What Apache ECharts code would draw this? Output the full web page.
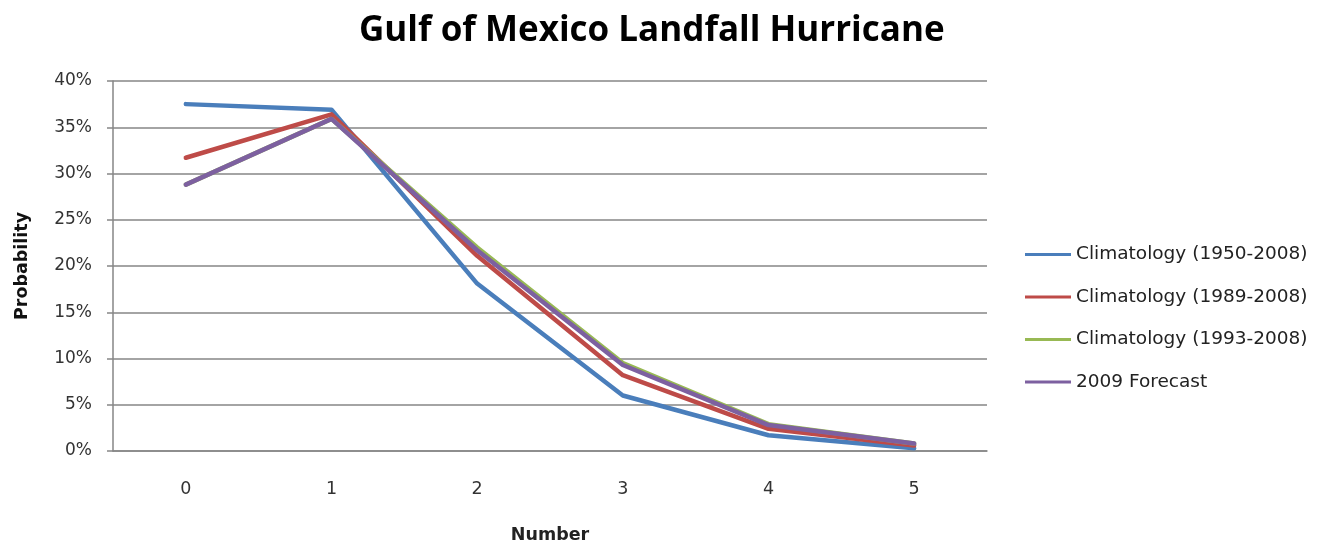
<!DOCTYPE html>
<html>
<head>
<meta charset="utf-8">
<style>
  html, body { margin: 0; padding: 0; background: #ffffff; overflow: hidden; }
  #chart { width: 1333px; height: 548px; }
</style>
<script src="https://cdn.jsdelivr.net/npm/echarts@6/dist/echarts.min.js"></script>
</head>
<body>
<div id="chart"></div>
<script>
// Number of landfalling hurricanes per season
const categories = ['0', '1', '2', '3', '4', '5'];

// Probability (%) for each count
const clim1950 = [37.5, 36.9, 18.1, 6.0, 1.7, 0.3];
const clim1989 = [31.7, 36.4, 21.1, 8.2, 2.4, 0.6];
const clim1993 = [28.8, 35.9, 22.0, 9.5, 2.9, 0.8];
const forecast2009 = [28.8, 35.9, 21.7, 9.3, 2.8, 0.8];

const seriesNames = [
  'Climatology (1950-2008)',
  'Climatology (1989-2008)',
  'Climatology (1993-2008)',
  '2009 Forecast'
];
const seriesColors = ['#4A7EBB', '#BE4B48', '#98B954', '#7D60A0'];
const yTicks = [0, 5, 10, 15, 20, 25, 30, 35, 40];

const font = '"DejaVu Sans", "Liberation Sans", sans-serif';
const titleFont = '"Open Sans", "DejaVu Sans", sans-serif';
const chart = echarts.init(document.getElementById('chart'), null, { renderer: 'canvas' });

const dataSets = [clim1950, clim1989, clim1993, forecast2009];

chart.setOption({
  animation: false,
  backgroundColor: '#ffffff',
  title: {
    text: 'Gulf of Mexico Landfall Hurricane',
    left: 354,
    top: 9,
    textStyle: { fontFamily: titleFont, fontSize: 35, fontWeight: 'bold', color: '#000000' }
  },
  legend: {
    orient: 'vertical',
    left: 1020,
    top: 240,
    itemGap: 23.5,
    itemWidth: 46,
    itemHeight: 3,
    icon: 'rect',
    data: seriesNames,
    textStyle: { fontFamily: font, fontSize: 18.5, color: '#222222' }
  },
  // fixed plot rectangle; axis names and labels sit outside it
  grid: { left: 113, right: 346, top: 81, bottom: 97, containLabel: false, outerBoundsMode: 'none' },
  xAxis: {
    type: 'category',
    data: categories,
    boundaryGap: true,
    name: 'Number',
    nameLocation: 'middle',
    nameGap: 75,
    nameTextStyle: { fontFamily: font, fontSize: 17.5, fontWeight: 'bold', color: '#222222' },
    axisLine: { show: true, lineStyle: { color: '#868686', width: 1.5 } },
    axisTick: { show: false },
    axisLabel: { margin: 29, fontFamily: font, fontSize: 17.5, color: '#333333' }
  },
  yAxis: {
    type: 'value',
    min: yTicks[0],
    max: yTicks[yTicks.length - 1],
    interval: 5,
    name: 'Probability',
    nameLocation: 'middle',
    nameGap: 82,
    nameTextStyle: { fontFamily: font, fontSize: 17.5, fontWeight: 'bold', color: '#111111' },
    axisLine: { show: true, lineStyle: { color: '#868686', width: 1.5 } },
    axisTick: { show: true, length: 6, lineStyle: { color: '#868686', width: 1.5 } },
    splitLine: { show: true, lineStyle: { color: '#868686', width: 1.5 } },
    axisLabel: {
      margin: 21,
      fontFamily: font,
      fontSize: 17,
      color: '#333333',
      formatter: v => v + '%'
    }
  },
  series: seriesNames.map((name, i) => ({
    name: name,
    type: 'line',
    data: dataSets[i],
    symbol: 'none',
    smooth: false,
    color: seriesColors[i],
    lineStyle: { width: 4.5, color: seriesColors[i], cap: 'round', join: 'round' },
    z: 2 + i
  }))
});
</script>
</body>
</html>
